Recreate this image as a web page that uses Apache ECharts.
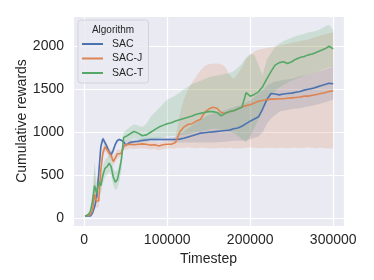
<!DOCTYPE html>
<html>
<head>
<meta charset="utf-8">
<script src="https://cdn.jsdelivr.net/npm/echarts@6/dist/echarts.min.js"></script>
<style>html,body{margin:0;padding:0;background:#fff}#c{width:374px;height:280px}</style>
</head>
<body>
<div id="c"></div>
<script>
const timesteps = [1000,2500,5000,7500,10000,12500,15000,17500,20000,22500,25000,27500,30000,32500,35000,37500,40000,42500,45000,47500,50000,
55000,60000,65000,70000,75000,80000,85000,90000,95000,100000,105000,110000,115000,120000,125000,130000,135000,140000,145000,150000,
155000,160000,165000,170000,175000,180000,185000,190000,195000,200000,205000,210000,215000,220000,225000,230000,235000,240000,245000,250000,
255000,260000,265000,270000,275000,280000,285000,290000,295000,300000];

const seriesNames = ['SAC','SAC-J','SAC-T'];
const xTicks = [0,100000,200000,300000];
const yTicks = [0,500,1000,1500,2000];

const sacMean = [25,30,28,27,60,130,240,520,830,925,880,830,770,740,790,860,905,915,905,890,850,
880,890,895,905,910,915,915,915,915,915,915,915,920,930,945,960,975,990,995,1000,
1005,1010,1015,1020,1025,1040,1050,1070,1100,1130,1155,1180,1270,1380,1450,1445,1435,1445,1450,1455,
1465,1475,1490,1500,1510,1525,1540,1555,1570,1565];
const sacLow = [17,22,20,19,45,100,200,440,760,895,845,790,730,700,750,830,885,900,890,875,830,
860,870,875,885,890,895,895,895,895,895,895,885,880,880,880,880,880,880,880,880,
882,885,888,890,895,900,900,900,905,920,935,950,1000,1100,1160,1200,1240,1250,1260,1270,
1275,1280,1290,1300,1310,1320,1335,1350,1365,1380];
const sacHigh = [33,38,36,35,80,170,290,600,890,950,910,870,810,780,830,890,925,930,920,905,870,
905,915,920,930,935,940,940,940,940,940,940,950,980,1010,1045,1080,1115,1150,1175,1200,
1215,1230,1245,1260,1275,1290,1305,1320,1345,1370,1410,1450,1490,1540,1570,1590,1600,1610,1615,1620,
1635,1650,1660,1670,1685,1700,1715,1730,1750,1760];

const sacjMean = [25,30,35,45,90,280,200,200,560,760,830,800,760,730,660,700,750,750,760,830,855,
860,855,860,865,860,850,855,840,855,860,860,880,1000,1060,1090,1100,1130,1150,1230,1270,
1290,1280,1230,1220,1240,1250,1270,1290,1310,1320,1340,1360,1370,1380,1385,1385,1390,1390,1395,1400,
1405,1410,1420,1420,1430,1440,1450,1460,1475,1480];
const sacjLow = [15,20,25,35,50,150,120,130,450,700,780,750,710,680,610,650,700,710,730,790,800,
810,805,810,815,810,800,805,790,805,810,810,815,820,820,825,820,815,820,820,815,
810,815,820,815,820,815,810,815,820,825,820,815,815,820,820,815,820,820,815,820,
820,815,820,825,820,815,820,815,810,810];
const sacjHigh = [35,40,45,55,140,550,300,290,680,830,880,850,810,780,720,760,800,800,800,870,900,
900,895,900,905,900,890,895,880,890,900,905,940,1200,1380,1500,1580,1650,1720,1770,1790,
1800,1800,1790,1760,1670,1620,1680,1760,1850,1900,1940,1960,1970,1980,1990,2000,2010,2020,2030,2040,
2050,2060,2070,2080,2095,2110,2125,2140,2150,2160];

const sactMean = [20,35,45,80,200,380,290,420,380,500,580,600,640,600,480,420,450,560,700,940,950,
980,1010,990,960,970,1000,1030,1060,1080,1100,1110,1130,1145,1160,1175,1190,1210,1220,1230,1240,
1240,1230,1190,1220,1240,1250,1270,1290,1460,1420,1440,1470,1530,1620,1705,1780,1810,1820,1800,1820,
1850,1870,1880,1900,1910,1930,1950,1970,2000,1970];
const sactLow = [15,25,35,60,120,200,200,300,280,400,480,500,540,500,380,330,350,440,560,860,890,
900,930,920,900,900,910,920,930,940,950,955,960,965,970,980,990,1000,1010,1020,1030,
1040,1040,1030,1020,1010,990,960,920,880,950,1050,1150,1250,1350,1420,1480,1520,1550,1580,1600,
1620,1640,1655,1670,1685,1700,1720,1740,1760,1760];
const sactHigh = [25,45,60,110,300,660,400,540,480,600,680,700,740,700,580,540,560,620,760,1000,1020,
1060,1090,1080,1060,1100,1180,1230,1280,1330,1380,1400,1430,1460,1500,1530,1560,1580,1600,1620,1640,
1650,1660,1670,1680,1690,1710,1750,1800,1870,1910,1900,1780,1660,1850,1920,1990,2030,2060,2080,2100,
2120,2130,2145,2160,2170,2180,2200,2230,2250,2190];

const colors = ['#4C72B0','#DD8452','#55A868'];
const bandFills = ['rgba(76,114,176,0.2)','rgba(221,132,82,0.2)','rgba(85,168,104,0.2)'];
const means = [sacMean, sacjMean, sactMean];
const lows = [sacLow, sacjLow, sactLow];
const highs = [sacHigh, sacjHigh, sactHigh];

const FONT = 'Liberation Sans, Arial, Helvetica, sans-serif';
const TXT = '#262626';

function bandSeries(k) {
  return {
    name: seriesNames[k] + ' band',
    type: 'custom',
    z: 1,
    silent: true,
    data: [[timesteps[0], lows[k][0]]],
    renderItem: function (params, api) {
      const pts = [];
      for (let i = 0; i < timesteps.length; i++) pts.push(api.coord([timesteps[i], highs[k][i]]));
      for (let i = timesteps.length - 1; i >= 0; i--) pts.push(api.coord([timesteps[i], lows[k][i]]));
      return { type: 'polygon', shape: { points: pts }, style: { fill: bandFills[k], stroke: null } };
    }
  };
}
function lineSeries(k) {
  return {
    name: seriesNames[k],
    type: 'line',
    z: 3,
    color: colors[k],
    symbol: 'none',
    showSymbol: false,
    silent: true,
    lineStyle: { width: 1.6, color: colors[k] },
    data: timesteps.map((x, i) => [x, means[k][i]])
  };
}

const chart = echarts.init(document.getElementById('c'), null, { renderer: 'canvas' });
chart.setOption({
  animation: false,
  backgroundColor: '#ffffff',
  grid: { left: 73, right: 30, top: 16, bottom: 54, show: true, backgroundColor: '#EAEAF2', borderWidth: 0 },
  xAxis: {
    type: 'value', min: -13500, max: 313000, splitNumber: 3,
    name: 'Timestep', nameLocation: 'middle', nameGap: 24,
    nameTextStyle: { fontSize: 14, color: TXT, fontFamily: FONT },
    axisLine: { show: false }, axisTick: { show: false },
    axisLabel: { fontSize: 14, color: TXT, fontFamily: FONT, margin: 7, showMinLabel: false, showMaxLabel: false,
      formatter: v => (xTicks.indexOf(v) >= 0 ? String(v) : '') },
    splitLine: { show: true, lineStyle: { color: '#ffffff', width: 1.2 } }
  },
  yAxis: {
    type: 'value', min: -90, max: 2352, splitNumber: 5,
    axisLine: { show: false }, axisTick: { show: false },
    axisLabel: { fontSize: 14, color: TXT, fontFamily: FONT, margin: 9, showMinLabel: false, showMaxLabel: false,
      formatter: v => (yTicks.indexOf(v) >= 0 ? String(v) : '') },
    splitLine: { show: true, lineStyle: { color: '#ffffff', width: 1.2 } }
  },
  legend: {
    orient: 'vertical', left: 78, top: 20,
    padding: [17.5, 5, 3.5, 4],
    itemWidth: 21, itemHeight: 2, itemGap: 1.5,
    icon: 'rect',
    selectedMode: false,
    textStyle: { fontSize: 10.5, color: TXT, fontFamily: FONT, lineHeight: 13, padding: [0, 0, 0, 4] },
    backgroundColor: 'rgba(234,234,242,0.8)', borderColor: '#d2d2da', borderWidth: 1, borderRadius: 3,
    data: seriesNames
  },
  graphic: [{
    type: 'text', x: 113, y: 30, z: 100,
    style: { text: 'Algorithm', fontSize: 10, fill: TXT, fontFamily: FONT, textAlign: 'center', textVerticalAlign: 'middle' }
  }, {
    type: 'text', x: 22, y: 121, rotation: Math.PI / 2, z: 100,
    style: { text: 'Cumulative rewards', fontSize: 14, fill: TXT, fontFamily: FONT, textAlign: 'center', textVerticalAlign: 'middle' }
  }],
  series: [bandSeries(0), bandSeries(1), bandSeries(2), lineSeries(0), lineSeries(1), lineSeries(2)]
});
</script>
</body>
</html>
